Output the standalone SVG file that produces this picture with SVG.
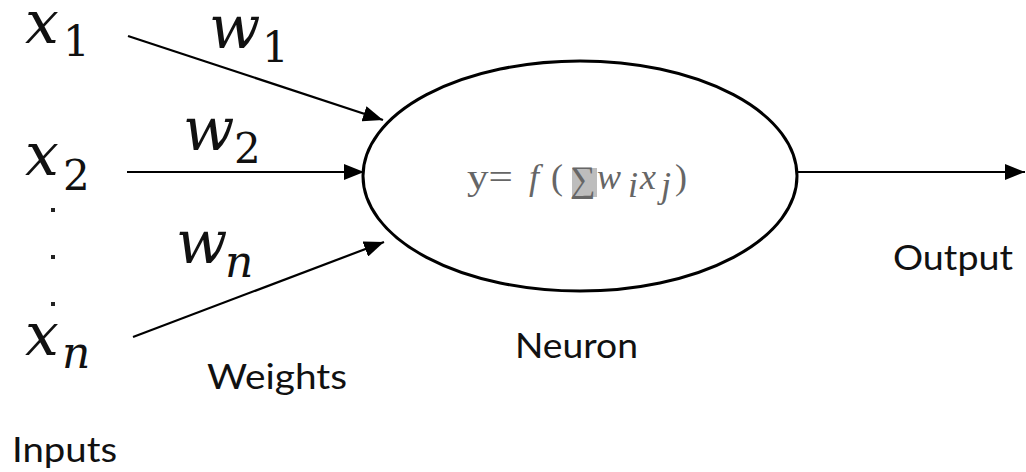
<svg xmlns="http://www.w3.org/2000/svg" width="1026" height="472" viewBox="0 0 1026 472">
<style>
.m{font-family:"DejaVu Serif",serif;font-style:italic;font-size:60px;fill:#111}
.s{font-family:"DejaVu Serif",serif;font-style:normal;font-size:42px;fill:#111}
.si{font-family:"DejaVu Serif",serif;font-style:italic;font-size:44px;fill:#111}
.lbl{font-family:"Lato","Open Sans",sans-serif;font-size:34px;fill:#111}
.f{font-family:"Liberation Serif",serif;font-size:36px;fill:#666}
.fi{font-style:italic}
.edge{stroke:#000;stroke-width:2.2;fill:none}
</style>
<defs>
<marker id="ah" markerUnits="userSpaceOnUse" markerWidth="22" markerHeight="16" refX="20" refY="8" orient="auto">
<path d="M0,0 L20,8 L0,16 Z" fill="#000"/>
</marker>
</defs>
<rect width="1026" height="472" fill="#fff"/>
<g id="connectors">
<line class="edge" x1="128" y1="36" x2="383" y2="120" marker-end="url(#ah)"/>
<line class="edge" x1="127" y1="172" x2="364" y2="172" marker-end="url(#ah)"/>
<line class="edge" x1="133" y1="337" x2="384" y2="242" marker-end="url(#ah)"/>
<line class="edge" x1="797" y1="172" x2="1025" y2="172" marker-end="url(#ah)"/>
</g>
<g id="neuron">
<ellipse cx="580" cy="176" rx="217" ry="115" fill="#fff" stroke="#000" stroke-width="3"/>
<rect x="572" y="168" width="25" height="29" fill="#bdbdbd"/>
<text class="f" x="467" y="189" textLength="46" lengthAdjust="spacingAndGlyphs">y=</text>
<text class="f fi" x="529" y="189" font-size="38">f</text>
<text class="f" x="551" y="189" font-size="38">(</text>
<text class="f" x="570" y="191" font-size="40">∑</text>
<text class="f fi" x="597" y="189" font-size="40">w</text>
<text class="f fi" x="628" y="197" font-size="24">i</text>
<text class="f fi" x="640" y="189" font-size="40">x</text>
<text class="f fi" x="661" y="197" font-size="24">j</text>
<text class="f" x="675" y="189" font-size="38">)</text>
</g>
<g id="x1"><text class="m" x="25" y="43">x</text><text class="s" x="63" y="56">1</text></g>
<g id="x2"><text class="m" x="25" y="175">x</text><text class="s" x="63" y="190">2</text></g>
<g id="xn"><text class="m" x="25" y="355">x</text><text class="si" x="62" y="368">n</text></g>
<g id="dots">
<rect x="51" y="208" width="4" height="4" fill="#222"/>
<rect x="51" y="255" width="4" height="4" fill="#222"/>
<rect x="51" y="302" width="4" height="4" fill="#222"/>
</g>
<g id="w1"><text class="m" x="209" y="48">w</text><text class="s" x="262" y="62">1</text></g>
<g id="w2"><text class="m" x="183" y="150">w</text><text class="s" x="234" y="163">2</text></g>
<g id="wn"><text class="m" x="176" y="263">w</text><text class="si" x="225" y="277">n</text></g>
<g id="labels">
<text class="lbl" x="207" y="389" textLength="140" lengthAdjust="spacingAndGlyphs">Weights</text>
<text class="lbl" x="12" y="462" textLength="105" lengthAdjust="spacingAndGlyphs">Inputs</text>
<text class="lbl" x="515" y="358" textLength="123" lengthAdjust="spacingAndGlyphs">Neuron</text>
<text class="lbl" x="893" y="270" textLength="120" lengthAdjust="spacingAndGlyphs">Output</text>
</g>
</svg>
